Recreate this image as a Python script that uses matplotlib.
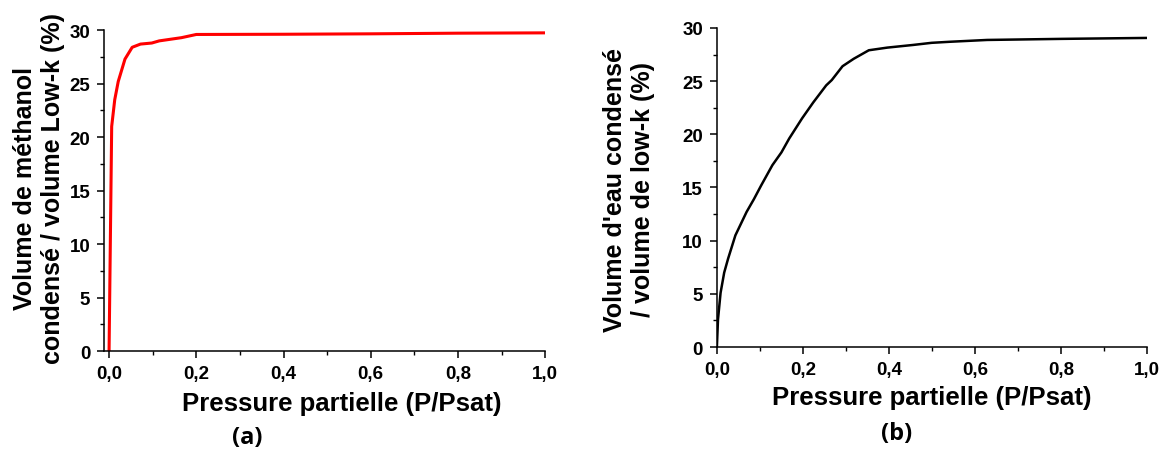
import matplotlib
matplotlib.use("Agg")
import matplotlib.pyplot as plt
from matplotlib.ticker import MultipleLocator, FuncFormatter

plt.rcParams['font.family'] = ['Liberation Sans', 'DejaVu Sans']
plt.rcParams['font.weight'] = 'bold'

# (a) methanol
p_meth = [0.0, 0.006, 0.013, 0.021, 0.0365, 0.053, 0.072, 0.098, 0.115, 0.149, 0.166, 0.2, 0.4, 0.6, 0.8, 1.0]
v_meth = [0.0, 21.0, 23.5, 25.2, 27.3, 28.4, 28.7, 28.8, 29.0, 29.2, 29.3, 29.6, 29.62, 29.66, 29.72, 29.75]

# (b) water
p_eau = [0.0, 0.0026, 0.0086, 0.017, 0.026, 0.043, 0.069, 0.086, 0.103, 0.129, 0.15, 0.168, 0.198,
         0.224, 0.254, 0.267, 0.292, 0.318, 0.353, 0.396, 0.456, 0.499, 0.542, 0.628, 0.80, 1.0]
v_eau = [0.0, 2.6, 5.1, 7.0, 8.3, 10.5, 12.7, 13.9, 15.2, 17.1, 18.3, 19.6, 21.5,
         23.0, 24.6, 25.1, 26.4, 27.1, 27.9, 28.15, 28.4, 28.6, 28.7, 28.87, 28.97, 29.06]

xlabel = "Pressure partielle (P/Psat)"
ylabel_a = "Volume de méthanol\ncondensé / volume Low-k (%)"
ylabel_b = "Volume d'eau condensé\n/ volume de low-k (%)"

fig = plt.figure(figsize=(11.6, 4.52), dpi=100)
ax1 = fig.add_axes([0.0897, 0.2212, 0.3803, 0.7098])
ax2 = fig.add_axes([0.618, 0.230, 0.371, 0.706])

ax1.plot(p_meth, v_meth, color='#ff0000', lw=2.2)
ax2.plot(p_eau, v_eau, color='black', lw=1.8)

fmt = FuncFormatter(lambda v, pos: f"{v:.1f}".replace('.', ','))
for ax, xl in ((ax1, -0.0115), (ax2, 0.0)):
    ax.set_xlim(xl, 1.0)
    ax.set_ylim(0, 30)
    ax.spines['top'].set_visible(False)
    ax.spines['right'].set_visible(False)
    for s in ('left', 'bottom'):
        ax.spines[s].set_linewidth(1.1)
    ax.xaxis.set_major_locator(MultipleLocator(0.2))
    ax.xaxis.set_minor_locator(MultipleLocator(0.1))
    ax.yaxis.set_major_locator(MultipleLocator(5))
    ax.yaxis.set_minor_locator(MultipleLocator(2.5))
    ax.xaxis.set_major_formatter(fmt)
    ax.tick_params(which='major', direction='out', length=5, width=1.1, labelsize=13.5, pad=5)
    ax.tick_params(which='minor', direction='out', length=3, width=1.0)
    for lab in ax.get_xticklabels() + ax.get_yticklabels():
        lab.set_fontweight('bold')

fig.text(0.295, 0.107, xlabel, ha='center', va='center', fontsize=18.5, fontweight='bold')
fig.text(0.803, 0.120, xlabel, ha='center', va='center', fontsize=18.5, fontweight='bold')
fig.text(0.213, 0.031, "(a)", ha='center', va='center', fontsize=17, fontweight='bold', family=['Open Sans', 'DejaVu Sans'])
fig.text(0.773, 0.040, "(b)", ha='center', va='center', fontsize=17, fontweight='bold', family=['Open Sans', 'DejaVu Sans'])
fig.text(0.0335, 0.584, ylabel_a, ha='center', va='center', rotation=90, fontsize=18, fontweight='bold', linespacing=1.2)
fig.text(0.542, 0.58, ylabel_b, ha='center', va='center', rotation=90, fontsize=18, fontweight='bold', linespacing=1.2)

fig.savefig("out.png", dpi=100)
